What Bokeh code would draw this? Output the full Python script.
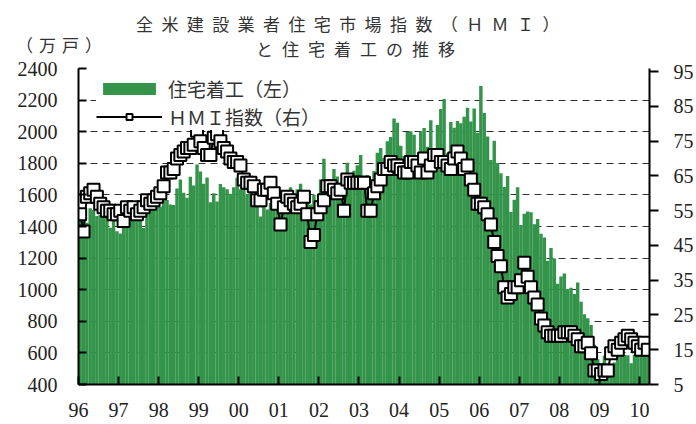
from bokeh.plotting import figure
from bokeh.models import (Range1d, LinearAxis, FixedTicker, Legend, LegendItem,
                          ColumnDataSource, Div)
from bokeh.layouts import column
from bokeh.embed import file_html
from bokeh.resources import INLINE

# ---- data ----
start_year = 1996
# US housing starts (thousand units, SAAR) Jan 1996 - Mar 2010
starts = [
    1467, 1491, 1424, 1516, 1504, 1467, 1472, 1557, 1475, 1392, 1489, 1370,  # 1996
    1355, 1486, 1457, 1492, 1442, 1494, 1437, 1390, 1546, 1520, 1510, 1566,  # 1997
    1525, 1584, 1567, 1540, 1536, 1641, 1698, 1614, 1582, 1715, 1660, 1792,  # 1998
    1748, 1670, 1710, 1553, 1611, 1559, 1669, 1648, 1635, 1608, 1648, 1708,  # 1999
    1636, 1737, 1604, 1626, 1575, 1559, 1463, 1541, 1507, 1549, 1551, 1532,  # 2000
    1600, 1625, 1590, 1649, 1605, 1636, 1670, 1567, 1562, 1540, 1602, 1568,  # 2001
    1698, 1829, 1642, 1592, 1764, 1717, 1655, 1633, 1804, 1648, 1753, 1788,  # 2002
    1853, 1629, 1726, 1643, 1751, 1867, 1897, 1833, 1939, 1967, 2083, 2057,  # 2003
    1911, 1846, 1998, 2003, 1981, 1828, 2002, 2024, 1905, 2072, 1782, 2042,  # 2004
    2144, 2207, 1864, 2061, 2025, 2068, 2054, 2095, 2151, 2065, 2147, 1994,  # 2005
    2290, 2119, 1969, 1821, 1942, 1802, 1737, 1650, 1720, 1491, 1570, 1649,  # 2006
    1409, 1480, 1495, 1490, 1415, 1448, 1354, 1330, 1183, 1264, 1197, 1037,  # 2007
    1084, 1103, 1005, 1013, 973, 1046, 923, 844, 820, 777, 652, 560,         # 2008
    490, 582, 505, 478, 540, 585, 594, 586, 585, 534, 588, 581,              # 2009
    614, 605, 636,                                                           # 2010
]
# NAHB Housing Market Index
hmi = [
    54, 49, 59, 60, 61, 59, 57, 56, 55, 55, 54, 54,   # 1996
    55, 52, 56, 55, 56, 54, 55, 56, 58, 57, 58, 59,   # 1997
    60, 62, 66, 66, 67, 70, 71, 72, 73, 73, 74, 78,   # 1998
    75, 73, 71, 71, 76, 77, 75, 73, 72, 70, 69, 69,   # 1999
    68, 64, 63, 63, 62, 58, 58, 61, 61, 63, 60, 57,   # 2000
    51, 56, 59, 58, 57, 56, 57, 59, 54, 46, 48, 54,   # 2001
    56, 58, 62, 62, 61, 60, 61, 55, 64, 63, 63, 63,   # 2002
    63, 63, 55, 55, 60, 62, 64, 67, 67, 69, 68, 68,   # 2003
    67, 66, 66, 69, 69, 68, 66, 70, 66, 68, 71, 71,   # 2004
    69, 69, 68, 67, 70, 72, 70, 67, 68, 64, 61, 57,   # 2005
    57, 56, 54, 51, 46, 42, 39, 33, 30, 31, 33, 33,   # 2006
    35, 40, 36, 33, 30, 28, 24, 22, 20, 19, 19, 19,   # 2007
    19, 20, 20, 20, 19, 18, 16, 16, 17, 14, 9, 9,     # 2008
    8, 9, 9, 14, 16, 15, 17, 18, 19, 18, 17, 16,      # 2009
    15, 17, 15,                                       # 2010
]
year_ticks = list(range(1996, 2011))
year_labels = ["96", "97", "98", "99", "00", "01", "02", "03", "04", "05",
               "06", "07", "08", "09", "10"]
left_ticks = list(range(400, 2401, 200))
right_ticks = list(range(5, 96, 10))

title_line1 = "全米建設業者住宅市場指数（ＨＭＩ）"
title_line2 = "と住宅着工の推移"
unit_label = "（万戸）"
legend_starts = "住宅着工（左）"
legend_hmi = "ＨＭＩ指数（右）"

months = [start_year + (i + 0.5) / 12 for i in range(len(starts))]
src = ColumnDataSource(dict(x=months, starts=starts, hmi=hmi))

GREEN = "#33944a"
TXT = "#222222"
JP = "Noto Sans CJK JP"
NUM = "Liberation Serif"

# ---- header (title + unit) ----
span = ("position:absolute;white-space:nowrap;font-family:'Noto Sans CJK JP';"
        "color:#333333;")
header_html = (
    '<div style="position:relative;width:696px;height:57px;">'
    f'<span style="{span}left:136px;top:15px;font-size:17px;line-height:17px;'
    f'letter-spacing:8.4px;">{title_line1}</span>'
    f'<span style="{span}left:256px;top:40px;font-size:17px;line-height:17px;'
    f'letter-spacing:9px;">{title_line2}</span>'
    f'<span style="{span}left:16px;top:36px;font-size:17px;line-height:17px;'
    f'letter-spacing:6px;">{unit_label}</span>'
    '</div>'
)
header = Div(text=header_html, width=696, height=57, margin=(0, 0, 0, 0))

# ---- chart ----
p = figure(width=696, height=367, output_backend="svg", toolbar_location=None,
           x_range=Range1d(1996, 2010.25), y_range=Range1d(400, 2400),
           min_border_left=78, min_border_right=47, min_border_top=11,
           min_border_bottom=40, margin=(0, 0, 0, 0))
p.extra_y_ranges = {"hmi": Range1d(5, 95.9)}
p.outline_line_color = None
p.background_fill_color = "white"

bars = p.vbar(x="x", top="starts", bottom=0, width=1 / 12 * 1.03, source=src,
              fill_color=GREEN, line_color=None)
ln = p.line(x="x", y="hmi", source=src, line_color="black", line_width=2,
            y_range_name="hmi")
sc = p.scatter(x="x", y="hmi", source=src, marker="square", size=12,
               fill_color="white", line_color="black", line_width=2,
               y_range_name="hmi")

# left axis
ya = p.yaxis[0]
ya.ticker = FixedTicker(ticks=left_ticks)
ya.major_tick_in = 8
ya.major_tick_out = 0
ya.minor_tick_line_color = None
ya.axis_line_width = 2
ya.major_tick_line_width = 2
ya.major_label_standoff = 21
ya.major_label_text_font = NUM
ya.major_label_text_font_size = "20px"
ya.major_label_text_color = TXT

# bottom axis
xa = p.xaxis[0]
xa.ticker = FixedTicker(ticks=year_ticks)
xa.major_label_overrides = {y: l for y, l in zip(year_ticks, year_labels)}
xa.major_tick_in = 8
xa.major_tick_out = 0
xa.minor_tick_line_color = None
xa.axis_line_width = 2
xa.major_tick_line_width = 2
xa.major_label_standoff = 18
xa.major_label_text_font = NUM
xa.major_label_text_font_size = "20px"
xa.major_label_text_color = TXT

# right axis
ra = LinearAxis(y_range_name="hmi", ticker=FixedTicker(ticks=right_ticks))
ra.major_tick_in = 0
ra.major_tick_out = 9
ra.minor_tick_line_color = None
ra.axis_line_width = 2
ra.major_tick_line_width = 2
ra.major_label_standoff = 15
ra.major_label_text_font = NUM
ra.major_label_text_font_size = "20px"
ra.major_label_text_color = TXT
p.add_layout(ra, "right")

# grid
p.xgrid.grid_line_color = None
p.ygrid.ticker = FixedTicker(ticks=left_ticks[1:])
p.ygrid.grid_line_color = "#333333"
p.ygrid.grid_line_dash = "7 5"
p.ygrid.grid_line_width = 1

# legend
legend = Legend(items=[LegendItem(label=legend_starts, renderers=[bars]),
                       LegendItem(label=legend_hmi, renderers=[ln, sc])],
                location=(18, 254), padding=3, margin=0, spacing=1,
                glyph_width=66, glyph_height=15, label_standoff=6,
                label_height=20, label_text_font=JP,
                label_text_font_size="19px", label_text_color="#333333",
                background_fill_color="white", background_fill_alpha=1,
                border_line_color=None)
p.add_layout(legend, "center")

layout = column(header, p, spacing=0, margin=(0, 0, 0, 0))
open("out.html", "w").write(file_html(layout, INLINE))
